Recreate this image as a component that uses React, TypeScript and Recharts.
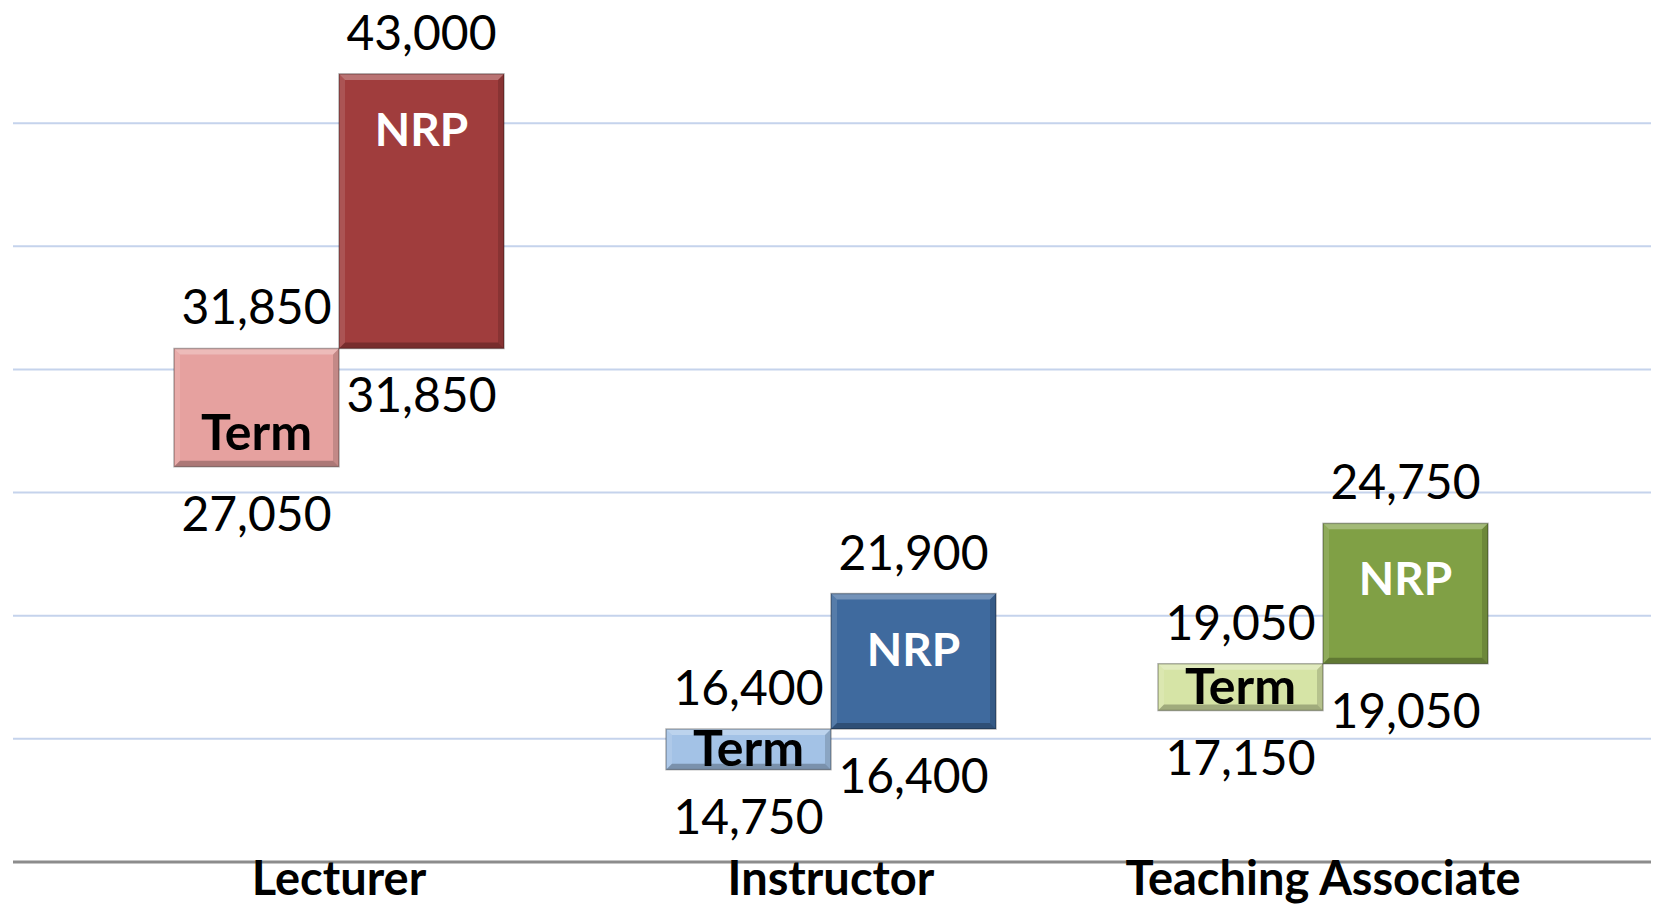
import { BarChart, Bar, XAxis, YAxis, CartesianGrid, Cell, LabelList } from 'recharts'

const roles = ['Lecturer', 'Instructor', 'Teaching Associate']
const termLow = [27050, 14750, 17150]
const termHigh = [31850, 16400, 19050]
const nrpLow = [31850, 16400, 19050]
const nrpHigh = [43000, 21900, 24750]
const yTicks = [11000, 16000, 21000, 26000, 31000, 36000, 41000]

const TERM_COLORS = ['#e6a19f', '#a3c2e6', '#d6e4a6']
const NRP_COLORS = ['#a03d3d', '#3f6a9e', '#80a045']

const data = roles.map((role, i) => ({
  role,
  term: [termLow[i], termHigh[i]],
  nrp: [nrpLow[i], nrpHigh[i]],
}))

const fmt = (v: number) => v.toLocaleString('en-US')

// rect with a soft bevel, like the office "3-D" bar style
function BevelBar(props: any) {
  const { x, y, width, height, fill } = props
  const top = Math.min(y, y + height)
  const h = Math.abs(height)
  const w = width
  const b = Math.min(6, h / 3)
  return (
    <g>
      <rect x={x} y={top} width={w} height={h} fill={fill} />
      <polygon
        points={`${x},${top} ${x + w},${top} ${x + w - b},${top + b} ${x + b},${top + b}`}
        fill="#fff"
        fillOpacity={0.28}
      />
      <polygon
        points={`${x},${top} ${x + b},${top + b} ${x + b},${top + h - b} ${x},${top + h}`}
        fill="#fff"
        fillOpacity={0.12}
      />
      <polygon
        points={`${x + w},${top} ${x + w},${top + h} ${x + w - b},${top + h - b} ${x + w - b},${top + b}`}
        fill="#000"
        fillOpacity={0.15}
      />
      <polygon
        points={`${x},${top + h} ${x + w},${top + h} ${x + w - b},${top + h - b} ${x + b},${top + h - b}`}
        fill="#000"
        fillOpacity={0.25}
      />
      <rect x={x} y={top} width={w} height={h} fill="none" stroke="#000" strokeOpacity={0.3} strokeWidth={1.5} />
    </g>
  )
}

function makeLabel(
  name: string,
  lows: number[],
  highs: number[],
  inner: 'top' | 'bottom',
  color: string,
  nameSize: number
) {
  return (props: any) => {
    const { x, y, width, height, index } = props
    const top = Math.min(y, y + height)
    const h = Math.abs(height)
    const bottom = top + h
    const cx = x + width / 2
    const innerBase =
      inner === 'top' ? top + 72 : Math.max(top + h / 2, bottom - 34) + 17
    return (
      <g>
        <text x={cx} y={top - 24} textAnchor="middle" fontSize={48} fill="#000">
          {fmt(highs[index])}
        </text>
        <text x={cx} y={bottom + 64} textAnchor="middle" fontSize={48} fill="#000">
          {fmt(lows[index])}
        </text>
        <text x={cx} y={innerBase} textAnchor="middle" fontSize={nameSize} fontWeight={700} fill={color}>
          {name}
        </text>
      </g>
    )
  }
}

export default function App() {
  return (
    <div style={{ position: 'absolute', left: 0, top: 0, fontFamily: 'Lato, sans-serif' }}>
      <BarChart
        width={1654}
        height={908}
        data={data}
        barGap={0}
        barSize={165}
        margin={{ top: 0, right: 3, left: 13, bottom: 0 }}
      >
        <CartesianGrid vertical={false} horizontalValues={yTicks} stroke="#c5d3ec" strokeWidth={2} />
        <XAxis
          dataKey="role"
          interval={0}
          height={46}
          padding={{ left: 80, right: 82 }}
          tickLine={false}
          tickSize={0}
          tickMargin={0}
          axisLine={{ stroke: '#8c8c8c', strokeWidth: 3 }}
          tick={{ fontSize: 47, fontWeight: 700, fill: '#000' }}
        />
        <YAxis hide domain={[11000, 46000]} ticks={yTicks} />
        <Bar dataKey="term" shape={<BevelBar />} isAnimationActive={false}>
          {data.map((_d, i) => (
            <Cell key={i} fill={TERM_COLORS[i]} />
          ))}
          <LabelList dataKey="term" content={makeLabel('Term', termLow, termHigh, 'bottom', '#000', 50)} />
        </Bar>
        <Bar dataKey="nrp" shape={<BevelBar />} isAnimationActive={false}>
          {data.map((_d, i) => (
            <Cell key={i} fill={NRP_COLORS[i]} />
          ))}
          <LabelList dataKey="nrp" content={makeLabel('NRP', nrpLow, nrpHigh, 'top', '#fff', 46)} />
        </Bar>
      </BarChart>
    </div>
  )
}
